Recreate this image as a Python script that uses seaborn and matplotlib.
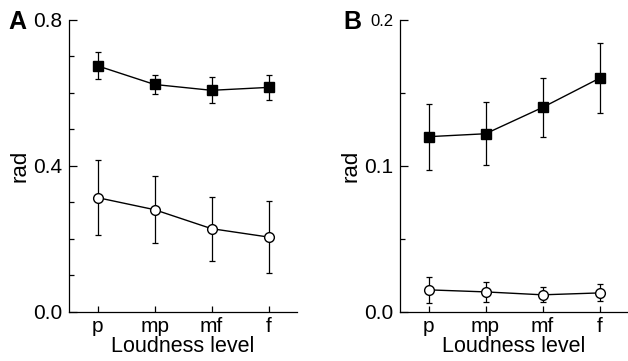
"""Loudness level vs rad, two panels"""

import matplotlib
matplotlib.use('Agg')
import matplotlib.pyplot as plt
import numpy as np
import pandas as pd
import seaborn as sns

levels = ['p', 'mp', 'mf', 'f']

# panel A
a_filled = [0.674, 0.623, 0.607, 0.615]
a_filled_err = [0.037, 0.026, 0.036, 0.035]
a_open = [0.313, 0.280, 0.228, 0.205]
a_open_err = [0.103, 0.091, 0.088, 0.098]

# panel B
b_filled = [0.120, 0.122, 0.140, 0.160]
b_filled_err = [0.0225, 0.0215, 0.020, 0.024]
b_open = [0.0151, 0.0137, 0.0117, 0.0130]
b_open_err = [0.0088, 0.0068, 0.0052, 0.0058]

sns.set_style('ticks')
plt.rcParams['font.family'] = ['Liberation Sans', 'DejaVu Sans']
for key in ['text.color', 'axes.labelcolor', 'xtick.color', 'ytick.color',
            'axes.edgecolor']:
    plt.rcParams[key] = 'black'


def draw_panel(ax, filled, filled_err, opened, opened_err, ymax, major, minor):
    df = pd.DataFrame({'level': levels * 2,
                       'value': filled + opened,
                       'kind': ['filled'] * 4 + ['open'] * 4})
    x = np.arange(len(levels))
    # error bars first so markers sit on top
    ax.errorbar(x, filled, yerr=filled_err, fmt='none', ecolor='black',
                elinewidth=0.9, capsize=2.5, capthick=0.9, zorder=1)
    ax.errorbar(x, opened, yerr=opened_err, fmt='none', ecolor='black',
                elinewidth=0.9, capsize=2.5, capthick=0.9, zorder=1)
    sns.lineplot(data=df, x='level', y='value', style='kind', hue='kind',
                 palette={'filled': 'black', 'open': 'black'},
                 markers={'filled': 's', 'open': 'o'},
                 dashes={'filled': '', 'open': ''},
                 markersize=7, linewidth=1.0, legend=False, ax=ax, zorder=3)
    lines = ax.get_lines()
    lines[-2].set_markerfacecolor('black')
    lines[-1].set_markerfacecolor('white')
    for ln in lines[-2:]:
        ln.set_markeredgecolor('black')
        ln.set_markeredgewidth(1.0)

    ax.set_xlim(-0.5, 3.5)
    ax.set_ylim(0, ymax)
    ax.set_xticks(x)
    ax.set_xticklabels(levels)
    ax.set_yticks(major)
    ax.set_yticklabels(['%.1f' % v for v in major])
    ax.set_yticks(minor, minor=True)
    ax.tick_params(axis='y', which='major', direction='in', length=6, width=0.9,
                   pad=5, labelsize=15)
    ax.tick_params(axis='y', which='minor', direction='in', length=3.5, width=0.9)
    ax.tick_params(axis='x', direction='in', length=4, width=0.9, pad=4,
                   labelsize=15)
    ax.set_xlabel('Loudness level', fontsize=15.5, labelpad=0)
    ax.set_ylabel('rad', fontsize=16, labelpad=2)
    for s in ['left', 'bottom']:
        ax.spines[s].set_linewidth(0.9)
    sns.despine(ax=ax)


fig = plt.figure(figsize=(6.28, 3.61), dpi=100)
ax_a = fig.add_axes([0.110, 0.136, 0.363, 0.809])
ax_b = fig.add_axes([0.637, 0.136, 0.363, 0.809])

draw_panel(ax_a, a_filled, a_filled_err, a_open, a_open_err, 0.8,
           [0.0, 0.4, 0.8], np.arange(0.1, 0.8, 0.1))
draw_panel(ax_b, b_filled, b_filled_err, b_open, b_open_err, 0.2,
           [0.0, 0.1, 0.2], [0.05, 0.15])

# the top label of panel B is squeezed smaller next to the letter
ax_b.get_yticklabels()[-1].set_fontsize(12)

fig.text(8 / 628, 1 - 22 / 361, 'A', fontsize=18, fontweight='bold',
         ha='left', va='center')
fig.text(343 / 628, 1 - 22 / 361, 'B', fontsize=18, fontweight='bold',
         ha='left', va='center')

fig.savefig('out.png', dpi=100)
